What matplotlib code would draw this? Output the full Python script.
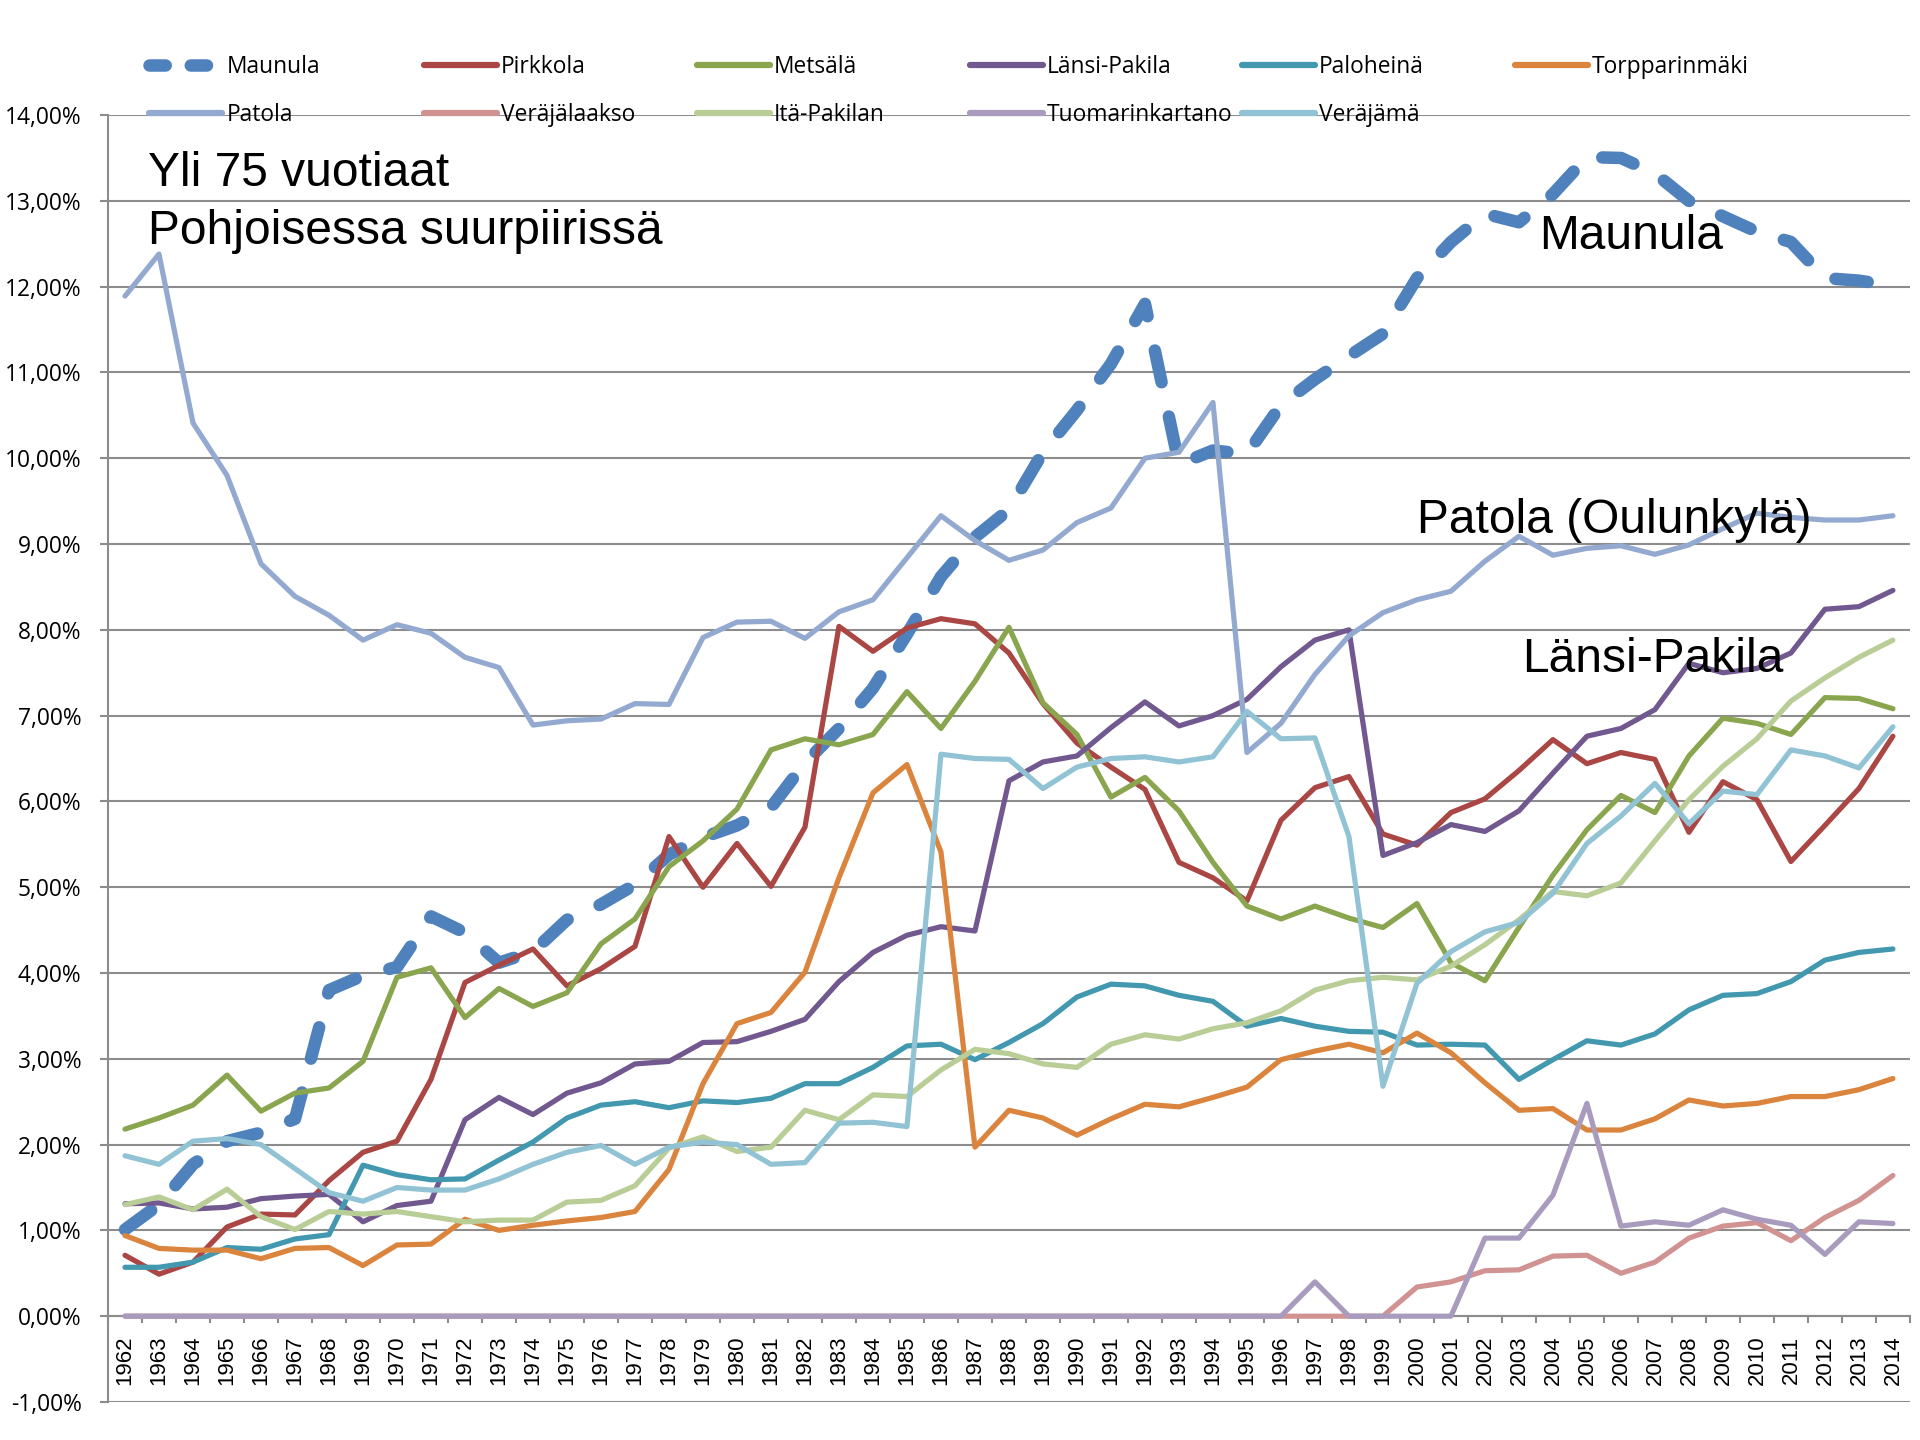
import matplotlib.pyplot as plt
import numpy as np
from matplotlib.lines import Line2D
from matplotlib.ticker import FixedLocator, FuncFormatter

# share of residents over 75 years, %, per district 1962-2014
years = [str(y) for y in range(1962, 2015)]

maunula = [1.01, 1.30, 1.77, 2.04, 2.14, 2.30, 3.80, 3.97, 4.07, 4.66, 4.47, 4.12, 4.25, 4.62, 4.80, 5.03, 5.38, 5.58,
           5.72, 5.93, 6.45, 6.85, 7.32, 7.95, 8.62, 9.08, 9.40, 10.07, 10.56, 11.10, 11.80, 9.93, 10.09, 10.05, 10.62,
           10.92, 11.19, 11.45, 12.10, 12.52, 12.85, 12.75, 13.08, 13.51, 13.50, 13.32, 13.00, 12.82, 12.64, 12.52, 12.10, 12.07, 12.01]
pirkkola = [0.71, 0.49, 0.63, 1.04, 1.19, 1.18, 1.58, 1.91, 2.04, 2.76, 3.89, 4.09, 4.28, 3.85, 4.05, 4.31, 5.59, 5.00,
            5.51, 5.01, 5.70, 8.04, 7.75, 8.02, 8.13, 8.07, 7.73, 7.14, 6.68, 6.40, 6.14, 5.29, 5.11, 4.84, 5.78,
            6.16, 6.29, 5.62, 5.49, 5.87, 6.03, 6.36, 6.72, 6.44, 6.57, 6.49, 5.64, 6.23, 6.02, 5.30, 5.72, 6.15, 6.76]
metsala = [2.18, 2.31, 2.46, 2.81, 2.39, 2.60, 2.66, 2.97, 3.95, 4.06, 3.48, 3.82, 3.61, 3.77, 4.34, 4.63, 5.24, 5.54,
           5.91, 6.60, 6.73, 6.66, 6.78, 7.28, 6.85, 7.40, 8.03, 7.15, 6.78, 6.05, 6.28, 5.89, 5.29, 4.78, 4.63,
           4.78, 4.64, 4.53, 4.81, 4.12, 3.91, 4.53, 5.14, 5.67, 6.07, 5.87, 6.53, 6.97, 6.91, 6.78, 7.21, 7.20, 7.08]
lansi_pakila = [1.31, 1.32, 1.25, 1.27, 1.37, 1.40, 1.42, 1.10, 1.29, 1.34, 2.29, 2.55, 2.35, 2.60, 2.72, 2.94, 2.97, 3.19,
                3.20, 3.32, 3.46, 3.90, 4.24, 4.44, 4.54, 4.49, 6.24, 6.46, 6.53, 6.86, 7.16, 6.88, 7.00, 7.19, 7.57,
                7.88, 8.00, 5.37, 5.52, 5.73, 5.65, 5.89, 6.33, 6.76, 6.85, 7.07, 7.61, 7.50, 7.55, 7.73, 8.24, 8.27, 8.46]
paloheina = [0.57, 0.57, 0.63, 0.80, 0.78, 0.90, 0.95, 1.76, 1.65, 1.59, 1.60, 1.82, 2.03, 2.31, 2.46, 2.50, 2.43, 2.51,
             2.49, 2.54, 2.71, 2.71, 2.90, 3.15, 3.17, 2.99, 3.19, 3.41, 3.72, 3.87, 3.85, 3.74, 3.67, 3.38, 3.47,
             3.38, 3.32, 3.31, 3.16, 3.17, 3.16, 2.76, 2.99, 3.21, 3.16, 3.29, 3.57, 3.74, 3.76, 3.90, 4.15, 4.24, 4.28]
torpparinmaki = [0.94, 0.79, 0.77, 0.77, 0.67, 0.79, 0.80, 0.59, 0.83, 0.84, 1.13, 1.00, 1.06, 1.11, 1.15, 1.22, 1.71, 2.71,
                 3.41, 3.54, 4.01, 5.11, 6.10, 6.43, 5.41, 1.97, 2.40, 2.31, 2.11, 2.30, 2.47, 2.44, 2.55, 2.67, 2.99,
                 3.09, 3.17, 3.07, 3.30, 3.07, 2.72, 2.40, 2.42, 2.17, 2.17, 2.30, 2.52, 2.45, 2.48, 2.56, 2.56, 2.64, 2.77]
patola = [11.89, 12.38, 10.41, 9.80, 8.77, 8.39, 8.17, 7.88, 8.06, 7.96, 7.68, 7.56, 6.89, 6.94, 6.96, 7.14, 7.13, 7.91,
          8.09, 8.10, 7.90, 8.21, 8.35, 8.84, 9.33, 9.04, 8.81, 8.93, 9.25, 9.42, 10.00, 10.07, 10.65, 6.57, 6.91,
          7.48, 7.93, 8.20, 8.35, 8.45, 8.80, 9.09, 8.87, 8.95, 8.98, 8.88, 8.99, 9.18, 9.36, 9.31, 9.28, 9.28, 9.33]
verajalaakso = [0, 0, 0, 0, 0, 0, 0, 0, 0, 0, 0, 0, 0, 0, 0, 0, 0, 0,
                0, 0, 0, 0, 0, 0, 0, 0, 0, 0, 0, 0, 0, 0, 0, 0, 0,
                0, 0, 0, 0.34, 0.40, 0.53, 0.54, 0.70, 0.71, 0.50, 0.63, 0.91, 1.05, 1.09, 0.88, 1.15, 1.35, 1.64]
ita_pakilan = [1.30, 1.39, 1.24, 1.48, 1.16, 1.01, 1.22, 1.19, 1.22, 1.16, 1.10, 1.12, 1.12, 1.33, 1.35, 1.52, 1.96, 2.09,
               1.92, 1.97, 2.40, 2.29, 2.58, 2.56, 2.87, 3.11, 3.06, 2.94, 2.90, 3.17, 3.28, 3.23, 3.35, 3.42, 3.56,
               3.80, 3.91, 3.95, 3.92, 4.08, 4.33, 4.62, 4.95, 4.90, 5.05, 5.54, 6.02, 6.41, 6.73, 7.17, 7.44, 7.68, 7.88]
tuomarinkartano = [0, 0, 0, 0, 0, 0, 0, 0, 0, 0, 0, 0, 0, 0, 0, 0, 0, 0,
                   0, 0, 0, 0, 0, 0, 0, 0, 0, 0, 0, 0, 0, 0, 0, 0, 0,
                   0.40, 0, 0, 0, 0, 0.91, 0.91, 1.41, 2.48, 1.05, 1.10, 1.06, 1.24, 1.13, 1.06, 0.72, 1.10, 1.08]
verajama = [1.87, 1.77, 2.04, 2.07, 2.00, 1.72, 1.44, 1.34, 1.50, 1.47, 1.47, 1.60, 1.77, 1.91, 1.99, 1.77, 1.97, 2.03,
            2.00, 1.77, 1.79, 2.25, 2.26, 2.21, 6.55, 6.50, 6.49, 6.15, 6.40, 6.50, 6.52, 6.46, 6.52, 7.05, 6.73,
            6.74, 5.59, 2.68, 3.88, 4.25, 4.48, 4.59, 4.93, 5.51, 5.83, 6.21, 5.74, 6.12, 6.08, 6.60, 6.53, 6.39, 6.87]

names = ['Maunula', 'Pirkkola', 'Metsälä', 'Länsi-Pakila', 'Paloheinä', 'Torpparinmäki',
         'Patola', 'Veräjälaakso', 'Itä-Pakilan', 'Tuomarinkartano', 'Veräjämä']
series = [maunula, pirkkola, metsala, lansi_pakila, paloheina, torpparinmaki,
          patola, verajalaakso, ita_pakilan, tuomarinkartano, verajama]
colors = ['#4F81BD', '#AA4643', '#89A54E', '#71588F', '#4198AF', '#DB843D',
          '#93A9CF', '#D19392', '#B9CD96', '#A99BBD', '#91C3D5']

GRID = '#8C8C8C'
TICK_FONT = 'Open Sans'

fig = plt.figure(figsize=(19.2, 14.4), dpi=100)
ax = fig.add_axes([0.05625, 0.0264, 0.9385, 0.8937])

x = np.arange(len(years))
handles = []
for i, (name, vals, col) in enumerate(zip(names, series, colors)):
    if name == 'Maunula':
        ax.plot(x, vals, color=col, lw=9, dashes=(2.6, 2.8), dash_capstyle='round',
                solid_joinstyle='round', zorder=3 + i)
        handles.append(Line2D([], [], color=col, lw=9, dashes=(1.3, 2.0), dash_capstyle='round'))
    else:
        ax.plot(x, vals, color=col, lw=3.75, solid_joinstyle='round', solid_capstyle='round', zorder=3 + i)
        handles.append(Line2D([], [], color=col, lw=4.5, solid_capstyle='round'))

ax.set_xlim(-0.5, len(years) - 0.5)
ax.set_ylim(-1, 14)

# y axis: percent labels with decimal comma
ax.set_yticks(np.arange(-1, 15, 1))
ax.yaxis.set_major_formatter(FuncFormatter(lambda v, p: f'{v:.2f}%'.replace('.', ',')))
ax.grid(axis='y', color=GRID, lw=1.5, zorder=1)
ax.tick_params(axis='y', direction='out', length=6, width=1.5, color=GRID, pad=13,
               labelsize=16.4, labelcolor='black')
for lab in ax.get_yticklabels():
    lab.set_family(TICK_FONT)

# category axis crossing at 0, ticks between categories
ax.spines['bottom'].set_position(('data', 0))
ax.spines['bottom'].set_color(GRID)
ax.spines['bottom'].set_linewidth(1.5)
ax.spines['left'].set_color(GRID)
ax.spines['left'].set_linewidth(1.5)
ax.spines['top'].set_visible(False)
ax.spines['right'].set_visible(False)
ax.set_xticks(x)
ax.set_xticklabels(years, rotation=90, family='Liberation Sans', fontsize=16)
ax.xaxis.set_minor_locator(FixedLocator(np.arange(-0.5, len(years), 1)))
ax.tick_params(axis='x', which='major', length=0, pad=14)
ax.tick_params(axis='x', which='minor', direction='out', length=5, width=1.5, color=GRID)

# annotations
txt = dict(family='Liberation Sans', fontsize=34.5, color='black', zorder=20)
ax.text(0.68, 12.5, 'Yli 75 vuotiaat\nPohjoisessa suurpiirissä', va='baseline', ha='left',
        linespacing=1.37, **txt)
ax.text(41.6, 12.44, 'Maunula', va='baseline', ha='left', **txt)
ax.text(38.0, 9.13, 'Patola (Oulunkylä)', va='baseline', ha='left', **txt)
ax.text(41.1, 7.51, 'Länsi-Pakila', va='baseline', ha='left', **txt)

# legend: 6 evenly spaced columns, two rows
col_x = [0.0778, 0.2207, 0.3629, 0.5051, 0.6467, 0.7889]
for c in range(6):
    idx = [k for k in (c, c + 6) if k < len(names)]
    fig.legend([handles[k] for k in idx], [names[k] for k in idx], loc='upper left',
               bbox_to_anchor=(col_x[c], 0.9621), frameon=False, borderpad=0, borderaxespad=0,
               handlelength=3.2, handletextpad=0.2, labelspacing=1.08,
               prop={'family': TICK_FONT, 'size': 16.4})

fig.savefig('out.png', dpi=100, facecolor='white')
